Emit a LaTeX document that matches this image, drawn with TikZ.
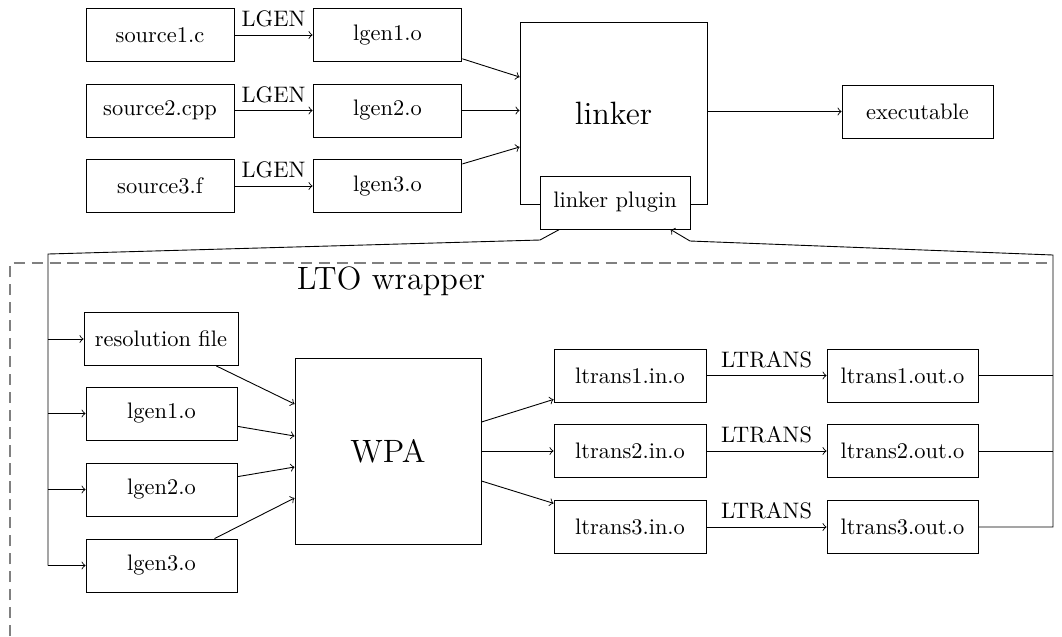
\documentclass[tikz,border=0pt]{standalone}
\usetikzlibrary{calc}

\tikzset{
  box/.style={draw, minimum width=67.3pt, minimum height=23.6pt, inner sep=3pt},
  bigbox/.style={draw, font=\Large},
  conn/.style={->},
  lbl/.style={font=\normalsize},
  wrapline/.style={draw=gray, line width=0.5pt, dash pattern=on 5pt off 3pt}
}

\begin{document}
\begin{tikzpicture}[x=0.446pt, y=-0.446pt]
  \useasboundingbox (0,0) rectangle (1062,636);

  % wrapper outline
  \draw[wrapline] (10,636) -- (10,263) -- (1053,263);
  \node[font=\Large] (ltowrap) at (391,281) {LTO wrapper};

  % compile stage
  \node[box, minimum width=66pt] (src1) at (160,35) {source1.c};
  \node[box, minimum width=66pt] (src2) at (160,110.5) {source2.cpp};
  \node[box, minimum width=66pt] (src3) at (160,186) {source3.f};
  \node[box, minimum width=66.4pt] (gen1) at (387.5,35) {lgen1.o};
  \node[box, minimum width=66.4pt] (gen2) at (387.5,110.5) {lgen2.o};
  \node[box, minimum width=66.4pt] (gen3) at (387.5,186) {lgen3.o};

  \draw[conn] (src1) -- node[above, lbl] {LGEN} (gen1);
  \draw[conn] (src2) -- node[above, lbl] {LGEN} (gen2);
  \draw[conn] (src3) -- node[above, lbl] {LGEN} (gen3);

  % linker with its plugin
  \node[bigbox, minimum width=83.4pt, minimum height=81.2pt] (linker) at (613.5,113) {linker};
  \node[box, fill=white, minimum width=66.9pt] (plugin) at (615,202.5) {linker plugin};
  \node[box, minimum width=67.3pt] (exe) at (917.5,111.5) {executable};

  \coordinate (lk1) at ($(linker.west)+(0,-36)$);
  \coordinate (lk3) at ($(linker.west)+(0,34)$);
  \draw[conn] (gen1) -- (lk1);
  \draw[conn] (gen2) -- (gen2 -| linker.west);
  \draw[conn] (gen3) -- (lk3);
  \draw[conn] (linker.east |- exe) -- (exe);

  % WPA inputs
  \node[box, minimum width=68.7pt] (res) at (161,339) {resolution file};
  \node[box] (in1) at (161.5,413.5) {lgen1.o};
  \node[box] (in2) at (161.5,489.5) {lgen2.o};
  \node[box] (in3) at (161.5,565.5) {lgen3.o};

  \node[bigbox, minimum width=83pt, minimum height=83pt] (wpa) at (388,451) {WPA};

  \coordinate (w1) at ($(wpa.west)+(0,-47)$);
  \coordinate (w2) at ($(wpa.west)+(0,-15)$);
  \coordinate (w3) at ($(wpa.west)+(0,16)$);
  \coordinate (w4) at ($(wpa.west)+(0,47)$);
  \draw[conn] (res) -- (w1);
  \draw[conn] (in1) -- (w2);
  \draw[conn] (in2) -- (w3);
  \draw[conn] (in3) -- (w4);

  % LTRANS partitions
  \node[box, minimum width=67.8pt] (ti1) at (630,375.5) {ltrans1.in.o};
  \node[box, minimum width=67.8pt] (ti2) at (630,451) {ltrans2.in.o};
  \node[box, minimum width=67.8pt] (ti3) at (630,527) {ltrans3.in.o};
  \node[box] (to1) at (902.5,375.5) {ltrans1.out.o};
  \node[box] (to2) at (902.5,451) {ltrans2.out.o};
  \node[box] (to3) at (902.5,527) {ltrans3.out.o};

  \coordinate (e1) at ($(wpa.east)+(0,-29)$);
  \coordinate (e3) at ($(wpa.east)+(0,30)$);
  \draw[conn] (e1) -- (ti1);
  \draw[conn] (wpa.east |- ti2) -- (ti2);
  \draw[conn] (e3) -- (ti3);

  \draw[conn] (ti1) -- node[above, lbl] {LTRANS} (to1);
  \draw[conn] (ti2) -- node[above, lbl] {LTRANS} (to2);
  \draw[conn] (ti3) -- node[above, lbl] {LTRANS} (to3);

  % plugin hands objects to the wrapper
  \coordinate (pout) at ($(plugin.south west)+(20,0)$);
  \coordinate (lbend) at (540,240);
  \coordinate (ltop) at (48,254);
  \draw (pout) -- (lbend) -- (ltop) -- (ltop |- in3);
  \draw[conn] (ltop |- res) -- (res);
  \draw[conn] (ltop |- in1) -- (in1);
  \draw[conn] (ltop |- in2) -- (in2);
  \draw[conn] (ltop |- in3) -- (in3);

  % LTRANS results return to the plugin
  \coordinate (rtop) at (1053,255);
  \coordinate (rbend) at (690,241);
  \coordinate (pin) at ($(plugin.south east)+(-20,0)$);
  \draw (to1) -- (to1 -| rtop);
  \draw (to2) -- (to2 -| rtop);
  \draw[conn] (to3) -- (to3 -| rtop) -- (rtop) -- (rbend) -- (pin);
\end{tikzpicture}
\end{document}
